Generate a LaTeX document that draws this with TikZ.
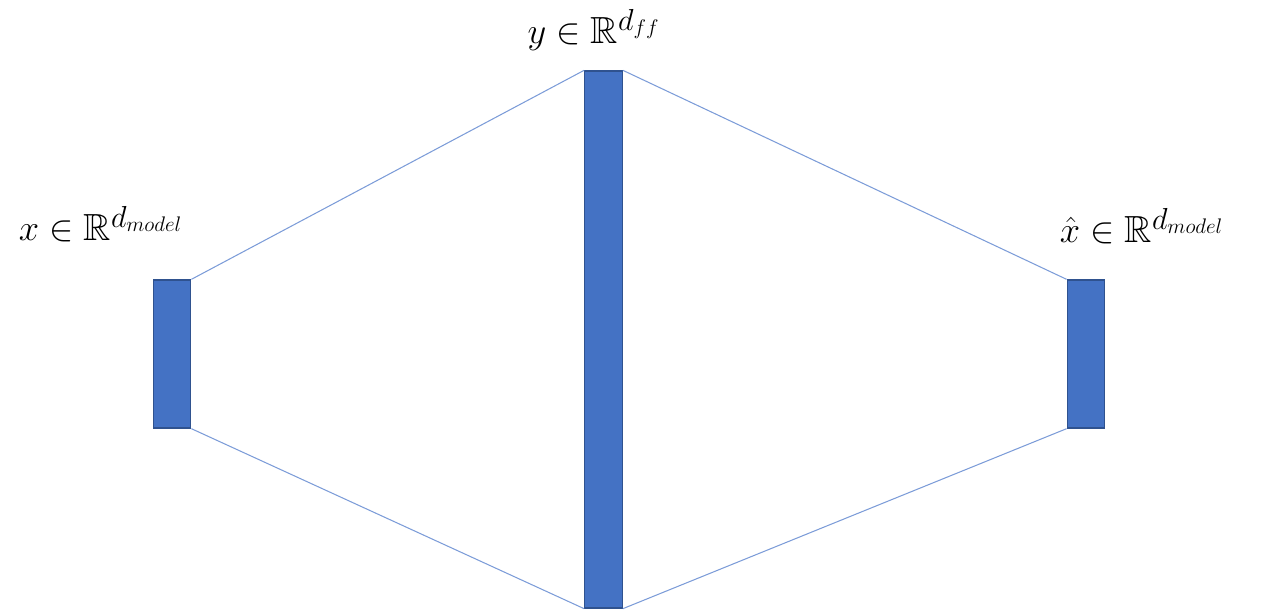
\documentclass[tikz,border=0pt]{standalone}
\usepackage{amssymb}
\usetikzlibrary{positioning}
\DeclareMathSizes{21.5}{21.5}{16.5}{12}
\definecolor{barFill}{HTML}{4472C4}
\definecolor{barEdge}{HTML}{2F528F}
\definecolor{linkBlue}{HTML}{7C9CD8}

\begin{document}
\begin{tikzpicture}[x=0.02cm,y=-0.02cm,font=\fontsize{21.5}{25}\selectfont]
        \tikzset{bar/.style={draw=barEdge,fill=barFill,line width=0.8pt,inner sep=0pt,minimum width=0.75cm},
                 link/.style={linkBlue,line width=0.6pt},
                 tag/.style={inner sep=1pt}}
        \useasboundingbox (0,0) rectangle (1262,612);
        % the three layers
        \node[bar,minimum height=2.96cm] (inp) at (172,354) {};
        \node[bar,minimum height=10.74cm] (hid) at (603.5,339.5) {};
        \node[bar,minimum height=2.96cm] (outp) at (1086,354) {};
        % labels
        \node[tag] (inplabel) at (101,224) {$x \in \mathbb{R}^{d_{model}}$};
        \node[tag] (hidlabel) at (594,30) {$y \in \mathbb{R}^{d_{ff}}$};
        \node[tag] (outplabel) at (1142,226) {$\hat{x} \in \mathbb{R}^{d_{model}}$};
        % connections
        \draw[link] (inp.north east) -- (hid.north west);
        \draw[link] (inp.south east) -- (hid.south west);
        \draw[link] (hid.north east) -- (outp.north west);
        \draw[link] (hid.south east) -- (outp.south west);
      \end{tikzpicture}
\end{document}
